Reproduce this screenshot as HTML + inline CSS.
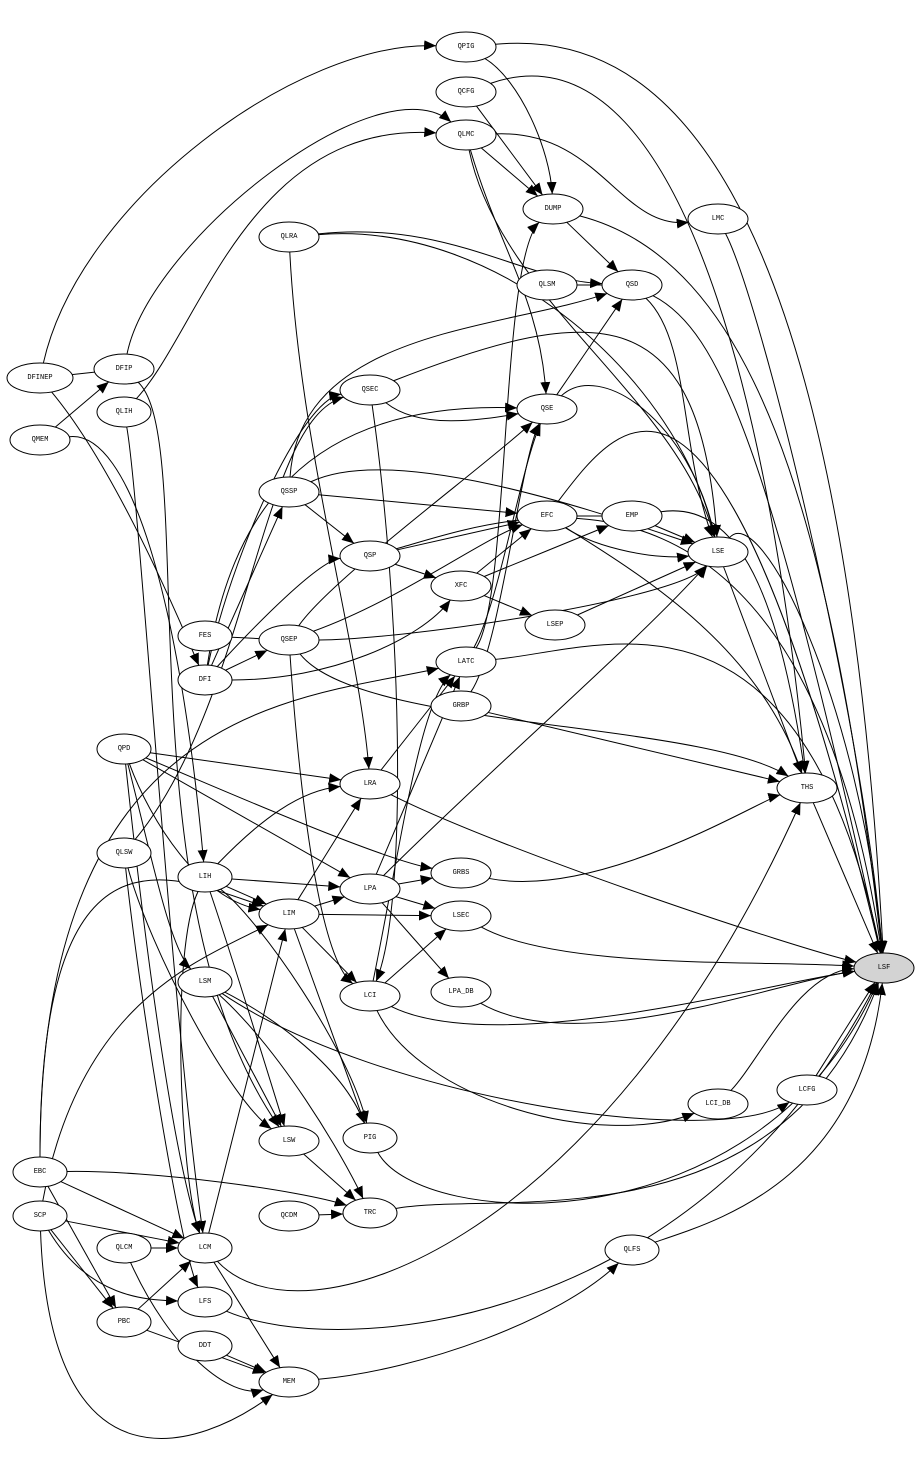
<!DOCTYPE html>
<html><head><meta charset="utf-8">
<style>
html,body{margin:0;padding:0;background:#fff;}
svg{display:block;}
text{font-family:"Liberation Mono",monospace;font-size:7px;font-weight:normal;text-anchor:middle;dominant-baseline:central;fill:#000;}
ellipse{fill:#fff;stroke:#000;stroke-width:1;}
path.e{fill:none;stroke:#000;stroke-width:1;}
</style></head><body>
<svg id="s" width="920" height="1462" viewBox="0 0 920 1462" xmlns="http://www.w3.org/2000/svg">
<defs><marker id="a" markerWidth="12" markerHeight="10" refX="12" refY="5" orient="auto" markerUnits="userSpaceOnUse"><path d="M0,0 L12,5 L0,10 Z" fill="#000"/></marker></defs>
<g id="edges"></g>
<g id="nodes">
<ellipse cx="466" cy="47" rx="30" ry="15"/><text x="466" y="47">QPIG</text>
<ellipse cx="466" cy="92" rx="30" ry="15"/><text x="466" y="92">QCFG</text>
<ellipse cx="466" cy="135" rx="30" ry="15"/><text x="466" y="135">QLMC</text>
<ellipse cx="553" cy="209" rx="30" ry="15"/><text x="553" y="209">DUMP</text>
<ellipse cx="718" cy="219" rx="30" ry="15"/><text x="718" y="219">LMC</text>
<ellipse cx="289" cy="237" rx="30" ry="15"/><text x="289" y="237">QLRA</text>
<ellipse cx="547" cy="285" rx="30" ry="15"/><text x="547" y="285">QLSM</text>
<ellipse cx="632" cy="285" rx="30" ry="15"/><text x="632" y="285">QSD</text>
<ellipse cx="40" cy="378" rx="33" ry="15"/><text x="40" y="378">DFINEP</text>
<ellipse cx="124" cy="369" rx="30" ry="15"/><text x="124" y="369">DFIP</text>
<ellipse cx="370" cy="390" rx="30" ry="15"/><text x="370" y="390">QSEC</text>
<ellipse cx="40" cy="440" rx="30" ry="15"/><text x="40" y="440">QMEM</text>
<ellipse cx="124" cy="412" rx="27" ry="15"/><text x="124" y="412">QLIH</text>
<ellipse cx="547" cy="409" rx="30" ry="15"/><text x="547" y="409">QSE</text>
<ellipse cx="289" cy="492" rx="30" ry="15"/><text x="289" y="492">QSSP</text>
<ellipse cx="547" cy="516" rx="30" ry="15"/><text x="547" y="516">EFC</text>
<ellipse cx="632" cy="516" rx="30" ry="15"/><text x="632" y="516">EMP</text>
<ellipse cx="718" cy="552" rx="30" ry="15"/><text x="718" y="552">LSE</text>
<ellipse cx="370" cy="556" rx="30" ry="15"/><text x="370" y="556">QSP</text>
<ellipse cx="461" cy="586" rx="30" ry="15"/><text x="461" y="586">XFC</text>
<ellipse cx="555" cy="625" rx="30" ry="15"/><text x="555" y="625">LSEP</text>
<ellipse cx="205" cy="636" rx="27" ry="15"/><text x="205" y="636">FES</text>
<ellipse cx="289" cy="640" rx="30" ry="15"/><text x="289" y="640">QSEP</text>
<ellipse cx="205" cy="680" rx="27" ry="15"/><text x="205" y="680">DFI</text>
<ellipse cx="466" cy="662" rx="30" ry="15"/><text x="466" y="662">LATC</text>
<ellipse cx="461" cy="706" rx="30" ry="15"/><text x="461" y="706">GRBP</text>
<ellipse cx="124" cy="749" rx="27" ry="15"/><text x="124" y="749">QPD</text>
<ellipse cx="370" cy="784" rx="30" ry="15"/><text x="370" y="784">LRA</text>
<ellipse cx="807" cy="788" rx="30" ry="15"/><text x="807" y="788">THS</text>
<ellipse cx="124" cy="853" rx="27" ry="15"/><text x="124" y="853">QLSW</text>
<ellipse cx="205" cy="877" rx="27" ry="15"/><text x="205" y="877">LIH</text>
<ellipse cx="461" cy="873" rx="30" ry="15"/><text x="461" y="873">GRBS</text>
<ellipse cx="370" cy="889" rx="30" ry="15"/><text x="370" y="889">LPA</text>
<ellipse cx="289" cy="914" rx="30" ry="15"/><text x="289" y="914">LIM</text>
<ellipse cx="461" cy="916" rx="30" ry="15"/><text x="461" y="916">LSEC</text>
<ellipse cx="884" cy="968" rx="30" ry="15" style="fill:#d3d3d3"/><text x="884" y="968">LSF</text>
<ellipse cx="205" cy="982" rx="27" ry="15"/><text x="205" y="982">LSM</text>
<ellipse cx="370" cy="996" rx="30" ry="15"/><text x="370" y="996">LCI</text>
<ellipse cx="461" cy="992" rx="30" ry="15"/><text x="461" y="992">LPA_DB</text>
<ellipse cx="807" cy="1090" rx="30" ry="15"/><text x="807" y="1090">LCFG</text>
<ellipse cx="718" cy="1104" rx="30" ry="15"/><text x="718" y="1104">LCI_DB</text>
<ellipse cx="370" cy="1138" rx="27" ry="15"/><text x="370" y="1138">PIG</text>
<ellipse cx="289" cy="1141" rx="30" ry="15"/><text x="289" y="1141">LSW</text>
<ellipse cx="40" cy="1172" rx="27" ry="15"/><text x="40" y="1172">EBC</text>
<ellipse cx="40" cy="1216" rx="27" ry="15"/><text x="40" y="1216">SCP</text>
<ellipse cx="289" cy="1216" rx="30" ry="15"/><text x="289" y="1216">QCDM</text>
<ellipse cx="370" cy="1213" rx="27" ry="15"/><text x="370" y="1213">TRC</text>
<ellipse cx="124" cy="1248" rx="27" ry="15"/><text x="124" y="1248">QLCM</text>
<ellipse cx="205" cy="1248" rx="27" ry="15"/><text x="205" y="1248">LCM</text>
<ellipse cx="632" cy="1250" rx="27" ry="15"/><text x="632" y="1250">QLFS</text>
<ellipse cx="205" cy="1302" rx="27" ry="15"/><text x="205" y="1302">LFS</text>
<ellipse cx="124" cy="1322" rx="27" ry="15"/><text x="124" y="1322">PBC</text>
<ellipse cx="205" cy="1346" rx="27" ry="15"/><text x="205" y="1346">DDT</text>
<ellipse cx="289" cy="1382" rx="30" ry="15"/><text x="289" y="1382">MEM</text>
</g>
</svg>
<script>
var N={};
document.querySelectorAll('#nodes ellipse').forEach(function(e){
 var t=e.nextElementSibling.textContent;
 N[t]=[+e.getAttribute('cx'),+e.getAttribute('cy'),+e.getAttribute('rx'),+e.getAttribute('ry')];
});
function clip(n,px,py){var dx=px-n[0],dy=py-n[1];var k=1/Math.sqrt(dx*dx/(n[2]*n[2])+dy*dy/(n[3]*n[3]));return [n[0]+dx*k,n[1]+dy*k];}
var E=[
['DFINEP','DFIP',0],['DFINEP','QPIG',0,80,200,300,40],['DFINEP','DFI',0,100,450,150,550],
['QMEM','DFIP',0],['QMEM','LIH',0,130,430,180,600],
['QLIH','QLMC',0,200,330,250,120],['QLIH','LCM',0,140,500,170,1000],
['DFIP','LSW',0,200,440,120,900],['DFIP','QLMC',-20,150,240,380,60],
['QPIG','DUMP',0,520,80,550,150],['QPIG','LSF',0,650,30,840,150],
['QCFG','DUMP',0],['QCFG','THS',0,700,10,780,500],
['QLMC','DUMP',0],['QLMC','QSE',0,500,250,540,300],['QLMC','LSE',0,500,300,680,400],['QLMC','LMC',0,600,130,620,230],
['DUMP','QSD',0],['DUMP','LSF',0,750,260,830,500],
['LMC','LSF',0,760,300,860,700],
['QLRA','LRA',0,300,450,360,650],['QLRA','QSD',0,450,220,520,280],['QLRA','LSE',0,500,220,680,380],
['QLSM','QSD',0],
['QSD','LSE',0,690,340,680,450],['QSD','LSF',0,720,330,770,450],
['QSEC','QSE',0,420,430,480,420],['QSEC','LSE',0,600,300,700,300],['QSEC','LCI',0,400,600,410,900],
['QSE','QSD',0],['QSE','LSE',0,600,360,690,420],
['QSSP','EFC',0],['QSSP','QSP',0],['QSSP','LSE',0,400,440,620,520],['QSSP','QSD',0,300,330,500,330],
['EFC','EMP',0],['EFC','LSE',0,600,550,660,560],['EFC','THS',0,650,580,760,650],['EFC','LSF',0,620,420,720,280],
['EMP','LSE',0],['EMP','THS',0,740,500,780,600],
['LSE','THS',0],['LSE','LSF',0,760,500,860,700],
['QSP','EFC',0],['QSP','XFC',0],['QSP','LSF',0,500,520,800,400],
['XFC','LSEP',0],['XFC','EFC',0],['XFC','EMP',0],
['LSEP','LSE',0],
['FES','QSEP',0],
['QSEP','QSE',0,330,580,480,470],['QSEP','EFC',0,400,600,480,540],['QSEP','LSE',0,400,640,680,600],['QSEP','LCI',0,300,800,320,960],['QSEP','THS',0,360,730,700,720],
['DFI','QSEP',0],['DFI','QSSP',0],['DFI','QSP',0,260,620,320,560],['DFI','XFC',0,330,680,420,640],['DFI','QSEC',0,230,560,300,400],['DFI','QSE',0,230,520,300,400],
['LATC','QSE',0,500,600,520,470],['LATC','DUMP',0,510,600,500,260],['LATC','LSF',0,600,650,800,560],
['GRBP','THS',0],['GRBP','QSE',0,500,650,520,460],
['QPD','LRA',0],['QPD','LPA',0],['QPD','LIM',0,150,820,200,900],['QPD','LSM',0,150,850,170,950],['QPD','GRBS',0,200,780,380,860],['QPD','LCM',0,140,900,170,1150],
['LRA','LATC',0],['LRA','LSF',0,500,850,800,950],
['THS','LSF',0],
['QLSW','LSW',0,150,950,230,1100],['QLSW','LFS',0,140,1000,180,1250],['QLSW','QSEC',0,250,700,260,420],
['LIH','LIM',0],['LIH','LPA',0],['LIH','LRA',0,260,820,300,790],['LIH','PIG',0,260,920,350,1050],['LIH','LSW',0,230,950,270,1080],['LIH','LCM',0,170,950,180,1180],
['GRBS','THS',0,600,900,760,800],
['LPA','GRBS',0],['LPA','LATC',0],['LPA','LPA_DB',0],['LPA','LSEC',0],['LPA','LSE',0,500,760,640,640],
['LIM','LPA',0],['LIM','LRA',0],['LIM','LCI',0],['LIM','PIG',0],['LIM','LSEC',0],
['LSEC','LSF',0,560,970,760,960],
['LSM','LSW',0],['LSM','PIG',0,260,1010,340,1060],['LSM','TRC',0,280,1050,340,1150],['LSM','LCFG',0,380,1100,720,1150],
['LCI','LSEC',0],['LCI','LCI_DB',0,420,1100,600,1150],['LCI','LSF',0,500,1060,780,980],['LCI','LATC',0,400,850,420,700],
['LPA_DB','LSF',0,580,1060,780,980],
['LCFG','LSF',0],['LCI_DB','LSF',0,760,1060,800,970],
['PIG','LSF',0,420,1230,760,1250],
['LSW','TRC',0],
['EBC','TRC',0,150,1170,300,1190],['EBC','LCM',0],['EBC','PBC',0],['EBC','LATC',0,40,700,300,700],['EBC','LIM',0,40,800,180,880],
['SCP','LCM',0],['SCP','PBC',0],['SCP','LFS',0,90,1300,150,1300],['SCP','MEM',0,50,1500,200,1450],['SCP','LIM',0,80,1000,200,960],
['QCDM','TRC',0],
['TRC','LSF',0,500,1190,780,1250],
['QLCM','LCM',0],['QLCM','MEM',0,170,1350,230,1400],
['LCM','LIM',0],['LCM','MEM',0],['LCM','THS',0,300,1350,600,1250],
['QLFS','LSF',0,720,1220,860,1180],
['LFS','LSF',0,340,1360,700,1330],
['PBC','LCM',0],['PBC','MEM',0],
['DDT','MEM',0],
['MEM','QLFS',0,420,1370,560,1320]
];
var g=document.getElementById('edges'),ns='http://www.w3.org/2000/svg';
E.forEach(function(e){
 var a=N[e[0]],b=N[e[1]];if(!a||!b)return;
 var c1,c2;
 if(e.length>3){c1=[e[3],e[4]];c2=[e[5],e[6]];}
 else{c1=[a[0]+(b[0]-a[0])/3,a[1]+(b[1]-a[1])/3];c2=[a[0]+2*(b[0]-a[0])/3,a[1]+2*(b[1]-a[1])/3];}
 var s=clip(a,c1[0],c1[1]),t=clip(b,c2[0],c2[1]);
 var p=document.createElementNS(ns,'path');
 p.setAttribute('class','e');
 p.setAttribute('d','M'+s[0]+','+s[1]+' C'+c1[0]+','+c1[1]+' '+c2[0]+','+c2[1]+' '+t[0]+','+t[1]);
 p.setAttribute('marker-end','url(#a)');
 g.appendChild(p);
});
</script>
</body></html>
